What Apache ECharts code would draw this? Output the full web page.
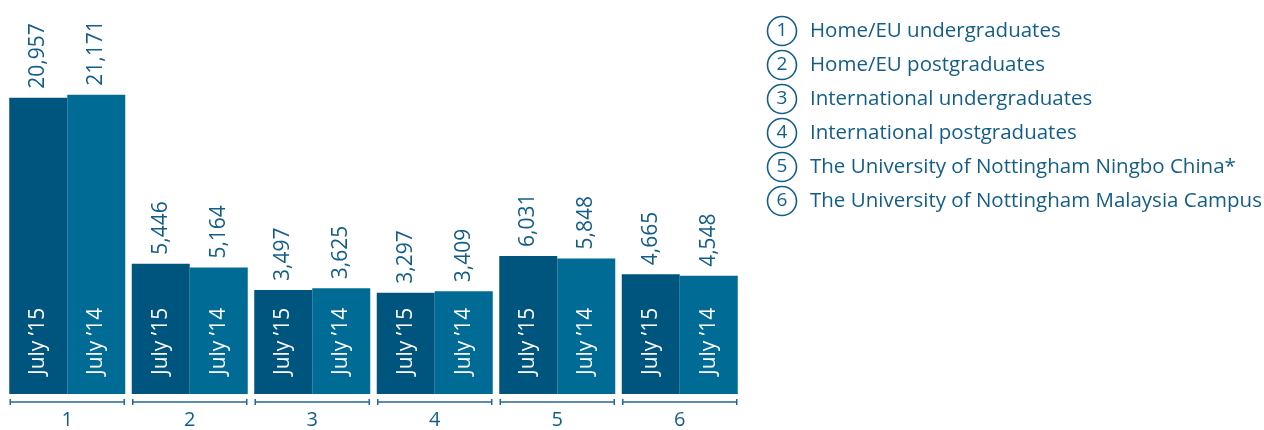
<!DOCTYPE html>
<html>
<head>
<meta charset="utf-8">
<script src="https://cdn.jsdelivr.net/npm/echarts@6/dist/echarts.min.js"></script>
<style>
  html, body { margin: 0; padding: 0; background: #ffffff; }
  #chart { width: 1264px; height: 430px; }
</style>
</head>
<body>
<div id="chart"></div>
<script>
// Student numbers by group, July 2015 vs July 2014
const categories = ['1', '2', '3', '4', '5', '6'];
const july15 = [20957, 5446, 3497, 3297, 6031, 4665];
const july14 = [21171, 5164, 3625, 3409, 5848, 4548];
const seriesNames = ['July \u201915', 'July \u201914'];
const groupNames = [
  'Home/EU undergraduates',
  'Home/EU postgraduates',
  'International undergraduates',
  'International postgraduates',
  'The University of Nottingham Ningbo China*',
  'The University of Nottingham Malaysia Campus'
];

const DARK = '#00557f';
const LIGHT = '#006b95';
const TEXT = '#135e89';
const FONT = 'Open Sans';

// value axis: bars rise from the axis floor; the tall first group is compressed by a break
const AXIS_MIN = -4250;
const AXIS_MAX = 25140;

const fmt = v => String(v).replace(/\B(?=(\d{3})+(?!\d))/g, ',');

// bars carrying the value above each bar
function valueSeries(name, data, color) {
  return {
    name: name,
    type: 'bar',
    xAxisIndex: 0,
    data: data,
    barWidth: 58,
    barGap: '0%',
    itemStyle: { color: color },
    silent: true,
    label: {
      show: true,
      position: 'top',
      distance: 9,
      rotate: 90,
      align: 'left',
      verticalAlign: 'middle',
      color: TEXT,
      fontFamily: FONT,
      fontSize: 21,
      formatter: p => fmt(p.value)
    },
    labelLayout: { hideOverlap: false }
  };
}

// transparent twin bars on an overlaid axis, carrying the year caption inside
function captionSeries(name, data) {
  return {
    name: name + ' caption',
    type: 'bar',
    xAxisIndex: 1,
    data: data,
    barWidth: 58,
    barGap: '0%',
    itemStyle: { color: 'rgba(0,0,0,0)' },
    silent: true,
    z: 3,
    label: {
      show: true,
      position: 'insideBottom',
      distance: 19,
      rotate: 90,
      align: 'left',
      verticalAlign: 'middle',
      color: '#ffffff',
      fontFamily: FONT,
      fontSize: 21,
      formatter: name
    }
  };
}

const chart = echarts.init(document.getElementById('chart'), null, { renderer: 'canvas' });

const legendGraphics = groupNames.map((name, i) => ({
  type: 'group',
  x: 782,
  y: 31 + i * 34,
  children: [
    { type: 'circle', shape: { cx: 0, cy: 0, r: 14.5 },
      style: { fill: 'none', stroke: TEXT, lineWidth: 1.6 } },
    { type: 'text', x: 0, y: 0,
      style: { text: categories[i], fill: TEXT, font: '19px "' + FONT + '"',
               align: 'center', verticalAlign: 'middle' } },
    { type: 'text', x: 28, y: 0,
      style: { text: name, fill: TEXT, font: '20.5px "' + FONT + '"',
               align: 'left', verticalAlign: 'middle' } }
  ]
}));

const hiddenAxisParts = {
  axisLine: { show: false },
  axisTick: { show: false },
  splitLine: { show: false }
};

chart.setOption({
  animation: false,
  backgroundColor: '#ffffff',
  grid: { left: 6, width: 735, top: 41.5, bottom: 31.5 },
  xAxis: [
    Object.assign({
      type: 'category',
      data: categories,
      axisLabel: { color: TEXT, fontFamily: FONT, fontSize: 20, margin: 16 }
    }, hiddenAxisParts),
    Object.assign({
      type: 'category',
      data: categories,
      axisLabel: { show: false }
    }, hiddenAxisParts)
  ],
  yAxis: Object.assign({
    type: 'value',
    min: AXIS_MIN,
    max: AXIS_MAX,
    startValue: AXIS_MIN,
    breaks: [{ start: 8000, end: 11140, gap: 0 }],
    breakArea: { show: false },
    axisLabel: { show: false }
  }, hiddenAxisParts),
  graphic: legendGraphics,
  series: [
    valueSeries(seriesNames[0], july15, DARK),
    valueSeries(seriesNames[1], july14, LIGHT),
    captionSeries(seriesNames[0], july15),
    captionSeries(seriesNames[1], july14),
    // bracket under each group
    {
      type: 'custom',
      xAxisIndex: 0,
      data: categories.map((c, i) => [i, AXIS_MIN]),
      silent: true,
      clip: false,
      renderItem: function (params, api) {
        const p = api.coord([api.value(0), api.value(1)]);
        const half = 58;
        const y = p[1] + 8;
        const x0 = p[0] - half + 1, x1 = p[0] + half - 1;
        const st = { stroke: '#246892', lineWidth: 1.5 };
        return {
          type: 'group',
          children: [
            { type: 'line', shape: { x1: x0, y1: y, x2: x1, y2: y }, style: st },
            { type: 'line', shape: { x1: x0, y1: y - 3, x2: x0, y2: y + 3 }, style: st },
            { type: 'line', shape: { x1: x1, y1: y - 3, x2: x1, y2: y + 3 }, style: st }
          ]
        };
      }
    }
  ]
});
</script>
</body>
</html>
